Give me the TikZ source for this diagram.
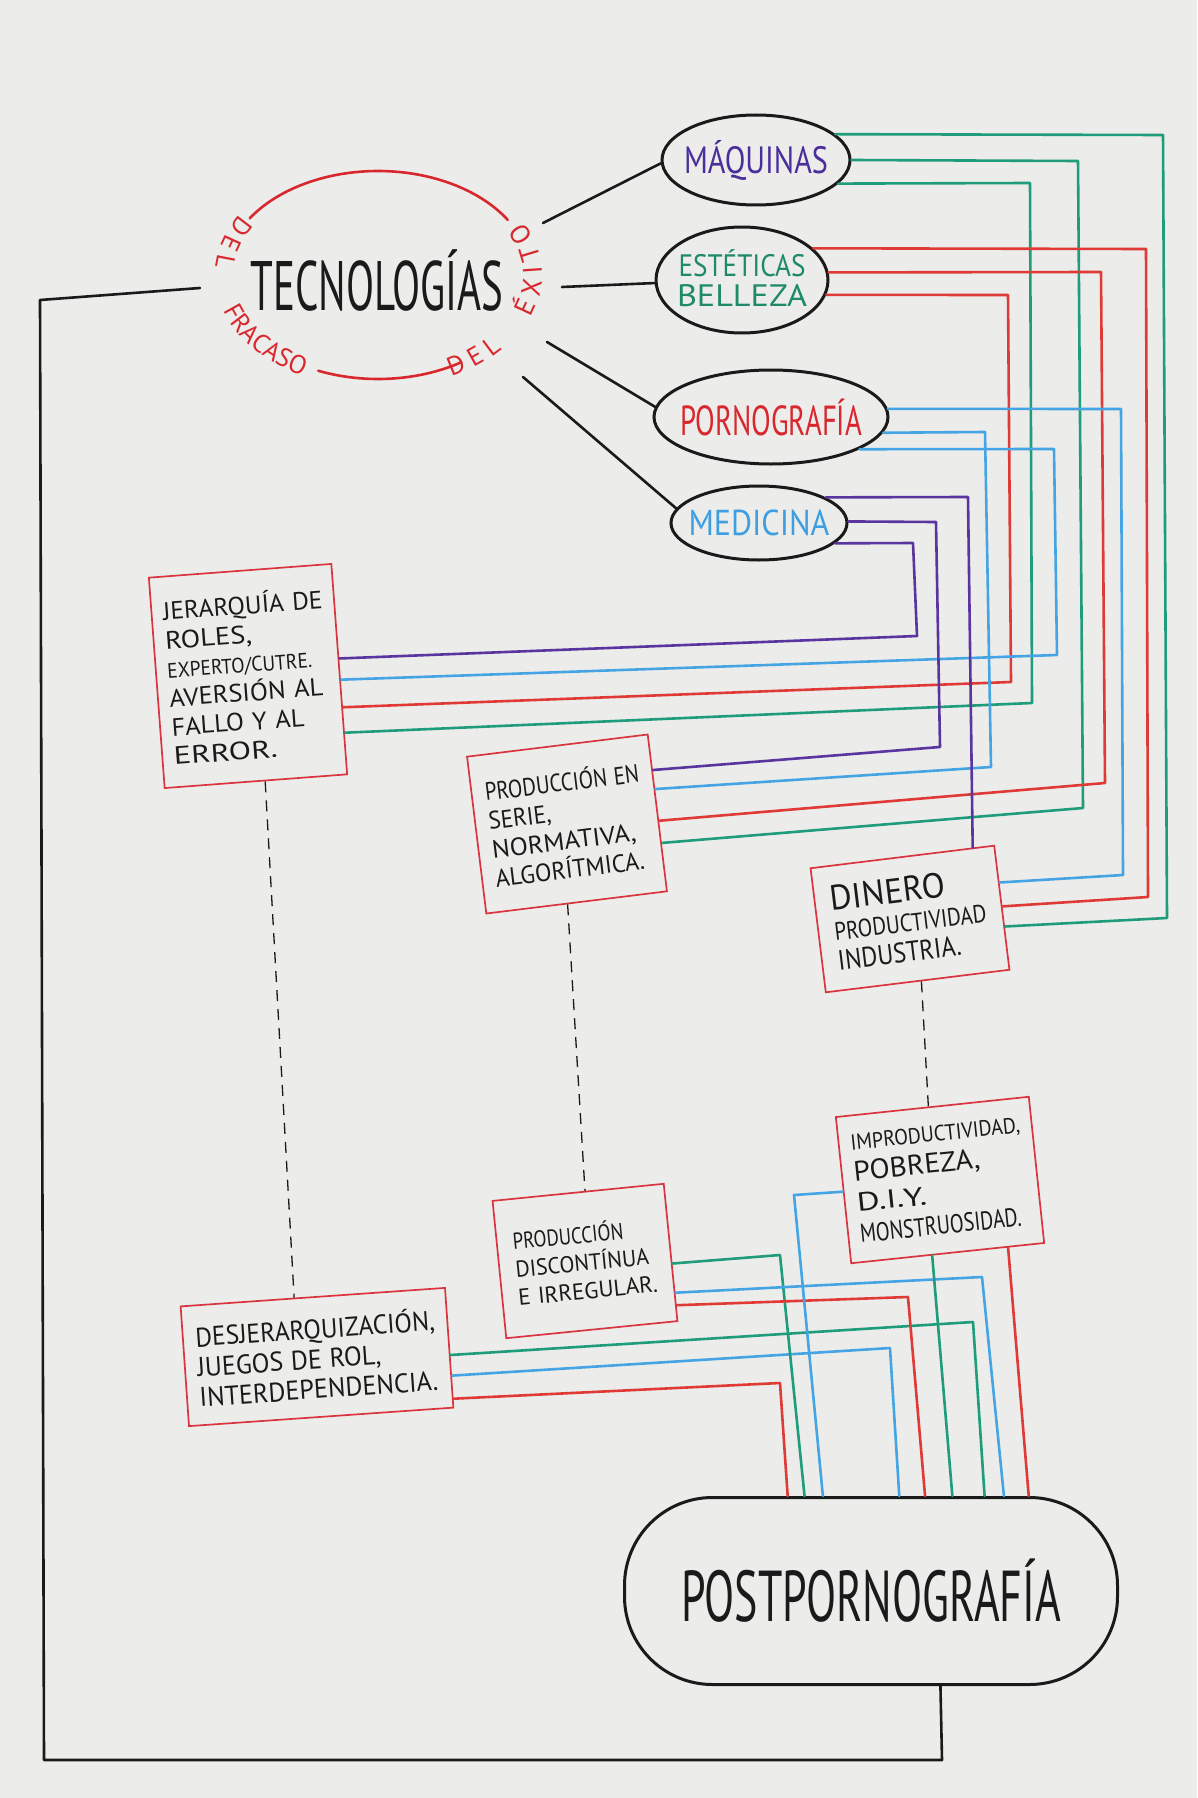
\documentclass[tikz,border=0pt]{standalone}
\usepackage{fontspec}
\setmainfont{PT Sans}
\usepackage{graphicx}
\usetikzlibrary{shapes.geometric,calc,decorations.text}
\definecolor{paper}{HTML}{ECECEA}
\definecolor{ink}{HTML}{1A1A1A}
\definecolor{lred}{HTML}{E03A36}
\definecolor{lgreen}{HTML}{1E9C7C}
\definecolor{lblue}{HTML}{45A4E3}
\definecolor{lpurple}{HTML}{5A35A0}
\definecolor{boxred}{HTML}{D9343F}
\definecolor{tpurple}{HTML}{4A2E9C}
\definecolor{tgreen}{HTML}{1F8A6A}
\definecolor{tred}{HTML}{D8282E}
\definecolor{tblue}{HTML}{3E9EE2}
\newcommand\fw[3]{\resizebox{#1pt}{\height}{\fontsize{#2}{#2}\selectfont #3}}
\newcommand\ringfont{\fontsize{26}{26}\selectfont}
\newcommand\ringfontb{\fontsize{27}{27}\selectfont}
\begin{document}
\begin{tikzpicture}[x=1pt,y=1pt,
  sat/.style={ellipse, draw=ink, line width=3pt, inner sep=0pt},
  box/.style={draw=boxred, line width=1.7pt, rectangle, inner xsep=2pt, inner ysep=3pt, align=left, text=ink},
  wire/.style={line width=2.6pt, line cap=round, line join=round},
  blackline/.style={draw=ink, line width=2.6pt, line cap=round, line join=round},
  ringline/.style={draw=tred, line width=2.6pt, line cap=round},
  dashline/.style={draw=ink, line width=1.3pt, dash pattern=on 11pt off 8pt},
  ringtext/.style={decorate, decoration={text along path, text align=center, text color=tred, text={#1}}}
]
\useasboundingbox (0,0) rectangle (1197,-1798);
\fill[paper] (0,0) rectangle (1197,-1798);

% central node
\node[ellipse, inner sep=0pt, minimum width=306pt, minimum height=208pt] (tec) at (377,-280) {\makebox[0pt]{\color{ink}\fw{253}{70}{TECNOLOGÍAS}}};
\coordinate (ring) at ($(tec.center)+(1,5)$);
\draw[ringline] ([shift={(32:153pt and 104pt)}]ring) arc[start angle=32, end angle=147, x radius=153pt, y radius=104pt];
\draw[ringline] ([shift={(247:153pt and 104pt)}]ring) arc[start angle=247, end angle=303, x radius=153pt, y radius=104pt];
\path[ringtext={|\ringfont|D E L}] ([shift={(140:163pt and 114pt)}]ring) arc[start angle=140, end angle=185, x radius=163pt, y radius=114pt];
\path[ringtext={|\ringfont|FRACASO}] ([shift={(188:163pt and 114pt)}]ring) arc[start angle=188, end angle=250, x radius=163pt, y radius=114pt];
\path[ringtext={|\ringfont|D E L}] ([shift={(288:163pt and 114pt)}]ring) arc[start angle=288, end angle=330, x radius=163pt, y radius=114pt];
\path[ringtext={|\ringfontb|É X I T O}] ([shift={(333:164pt and 115pt)}]ring) arc[start angle=333, end angle=393, x radius=164pt, y radius=115pt];

% satellites
\node[sat, minimum width=188pt, minimum height=90pt] (maq) at (756,-160) {\makebox[0pt]{\color{tpurple}\fw{144}{38}{MÁQUINAS}}};
\node[sat, minimum width=172pt, minimum height=106pt] (est) at (742,-280) {\makebox[0pt]{\color{tgreen}\begin{tabular}{@{}c@{}}\fw{127}{31}{ESTÉTICAS}\\[4pt]\fw{130}{31}{BELLEZA}\end{tabular}}};
\node[sat, minimum width=234pt, minimum height=94pt] (porn) at (771,-417) {\makebox[0pt]{\color{tred}\fw{182}{42}{PORNOGRAFÍA}}};
\node[sat, minimum width=176pt, minimum height=74pt] (med) at (759,-523) {\makebox[0pt]{\color{tblue}\fw{141}{36}{MEDICINA}}};

% rays
\draw[blackline] ([shift={(166,57)}]tec.center) -- (maq.182);
\draw[blackline] ([shift={(185,-7)}]tec.center) -- (est.182);
\draw[blackline] ([shift={(170,-62)}]tec.center) -- (porn.175);
\draw[blackline] ([shift={(146,-97)}]tec.center) -- (med.170);

% upper boxes
\node[box, rotate=4.3, minimum width=183pt, minimum height=211pt, text width=160pt, font=\fontsize{24}{29}\selectfont] (jer) at (248,-676)
 {\fw{160}{25}{JERARQUÍA DE}\\ \fw{87}{25}{ROLES,}\\ \fw{145}{21}{EXPERTO/CUTRE.}\\ \fw{154}{25}{AVERSIÓN AL}\\ \fw{133}{25}{FALLO Y AL}\\ \fw{104}{25}{ERROR.}};
\node[box, rotate=7, minimum width=182pt, minimum height=158pt, text width=155pt, font=\fontsize{24}{29}\selectfont] (ser) at (567,-824)
 {\fw{155}{25}{PRODUCCIÓN EN}\\ \fw{63}{25}{SERIE,}\\ \fw{145}{25}{NORMATIVA,}\\ \fw{150}{25}{ALGORÍTMICA.}};
\node[box, rotate=7, minimum width=185pt, minimum height=125pt, text width=153pt, font=\fontsize{24}{30}\selectfont] (din) at (910,-919)
 {\fw{115}{35}{DINERO}\\ \fw{153}{25}{PRODUCTIVIDAD}\\ \fw{124}{28}{INDUSTRIA.}};

% lower boxes
\node[box, rotate=4, minimum width=265pt, minimum height=120pt, text width=240pt, font=\fontsize{24}{30}\selectfont] (desj) at (317,-1357)
 {\fw{240}{27}{DESJERARQUIZACIÓN,}\\ \fw{184}{27}{JUEGOS DE ROL,}\\ \fw{239}{27}{INTERDEPENDENCIA.}};
\node[box, rotate=5.7, minimum width=172pt, minimum height=138pt, text width=140pt, font=\fontsize{22}{28}\selectfont] (disc) at (585,-1261)
 {\fw{111}{23}{PRODUCCIÓN}\\ \fw{134}{23}{DISCONTÍNUA}\\ \fw{140}{23}{E IRREGULAR.}};
\node[box, rotate=6, minimum width=194pt, minimum height=147pt, text width=170pt, font=\fontsize{24}{31}\selectfont] (imp) at (940,-1180)
 {\fw{170}{22}{IMPRODUCTIVIDAD,}\\ \fw{127}{28}{POBREZA,}\\ \fw{70}{26}{D.I.Y.}\\ \fw{162}{26}{MONSTRUOSIDAD.}};

% final node
\node[draw=ink, line width=3pt, rounded corners=88pt, minimum width=493pt, minimum height=187pt, inner sep=0pt] (post) at (871,-1591) {\color{ink}\fw{380}{72}{POSTPORNOGRAFÍA}};

% green wires from MAQUINAS
\draw[wire, lgreen] (maq.18) -- (1163,-135) -- (1167,-918) -- ($(din.north east)!0.65!(din.south east)$);
\draw[wire, lgreen] (maq.0) -- (1078,-161) -- (1083,-808) -- ($(ser.north east)!0.69!(ser.south east)$);
\draw[wire, lgreen] (maq.-16) -- (1030,-183) -- (1032,-703) -- ($(jer.north east)!0.80!(jer.south east)$);
% red wires from ESTETICAS
\draw[wire, lred] (est.24) -- (1146,-249) -- (1148,-897) -- ($(din.north east)!0.49!(din.south east)$);
\draw[wire, lred] (est.5) -- (1101,-272) -- (1105,-783) -- ($(ser.north east)!0.55!(ser.south east)$);
\draw[wire, lred] (est.-10) -- (1008,-295) -- (1011,-682) -- ($(jer.north east)!0.68!(jer.south east)$);
% blue wires from PORNOGRAFIA
\draw[wire, lblue] (porn.4) -- (1121,-409) -- (1123,-875) -- ($(din.north east)!0.30!(din.south east)$);
\draw[wire, lblue] (porn.-8) -- (985,-432) -- (991,-767) -- ($(ser.north east)!0.35!(ser.south east)$);
\draw[wire, lblue] (porn.-20) -- (1054,-449) -- (1057,-655) -- ($(jer.north east)!0.55!(jer.south east)$);
% purple wires from MEDICINA
\draw[wire, lpurple] (med.21) -- (968,-497) -- ($(din.north west)!0.88!(din.north east)$);
\draw[wire, lpurple] (med.1) -- (936,-522) -- (940,-747) -- ($(ser.north east)!0.23!(ser.south east)$);
\draw[wire, lpurple] (med.-15) -- (913,-543) -- (917,-636) -- ($(jer.north east)!0.45!(jer.south east)$);

% dashed links
\draw[dashline] ($(jer.south west)!0.55!(jer.south east)$) -- ($(desj.north west)!0.43!(desj.north east)$);
\draw[dashline] ($(ser.south west)!0.45!(ser.south east)$) -- ($(disc.north west)!0.54!(disc.north east)$);
\draw[dashline] ($(din.south west)!0.52!(din.south east)$) -- ($(imp.north west)!0.48!(imp.north east)$);

% lower wires to POSTPORNOGRAFIA
\draw[wire, lgreen] ($(desj.north east)!0.56!(desj.south east)$) -- (973,-1322) -- ($(post.north west)!0.729!(post.north east)$);
\draw[wire, lblue] ($(desj.north east)!0.73!(desj.south east)$) -- (890,-1348) -- ($(post.north west)!0.557!(post.north east)$);
\draw[wire, lred] ($(desj.north east)!0.92!(desj.south east)$) -- (780,-1383) -- ($(post.north west)!0.332!(post.north east)$);
\draw[wire, lgreen] ($(disc.north east)!0.58!(disc.south east)$) -- (780,-1255) -- ($(post.north west)!0.366!(post.north east)$);
\draw[wire, lblue] ($(disc.north east)!0.79!(disc.south east)$) -- (982,-1277) -- ($(post.north west)!0.768!(post.north east)$);
\draw[wire, lred] ($(disc.north east)!0.88!(disc.south east)$) -- (908,-1297) -- ($(post.north west)!0.609!(post.north east)$);
\draw[wire, lblue] ($(imp.north west)!0.51!(imp.south west)$) -- (794,-1195) -- ($(post.north west)!0.403!(post.north east)$);
\draw[wire, lgreen] ($(imp.south west)!0.42!(imp.south east)$) -- ($(post.north west)!0.664!(post.north east)$);
\draw[wire, lred] ($(imp.south west)!0.81!(imp.south east)$) -- ($(post.north west)!0.818!(post.north east)$);

% loop back
\draw[blackline] ($(post.south west)!0.64!(post.south east)$) -- (942,-1760) -- (44,-1760) -- (40,-300) -- ([shift={(-177,-8)}]tec.center);
\end{tikzpicture}
\end{document}
